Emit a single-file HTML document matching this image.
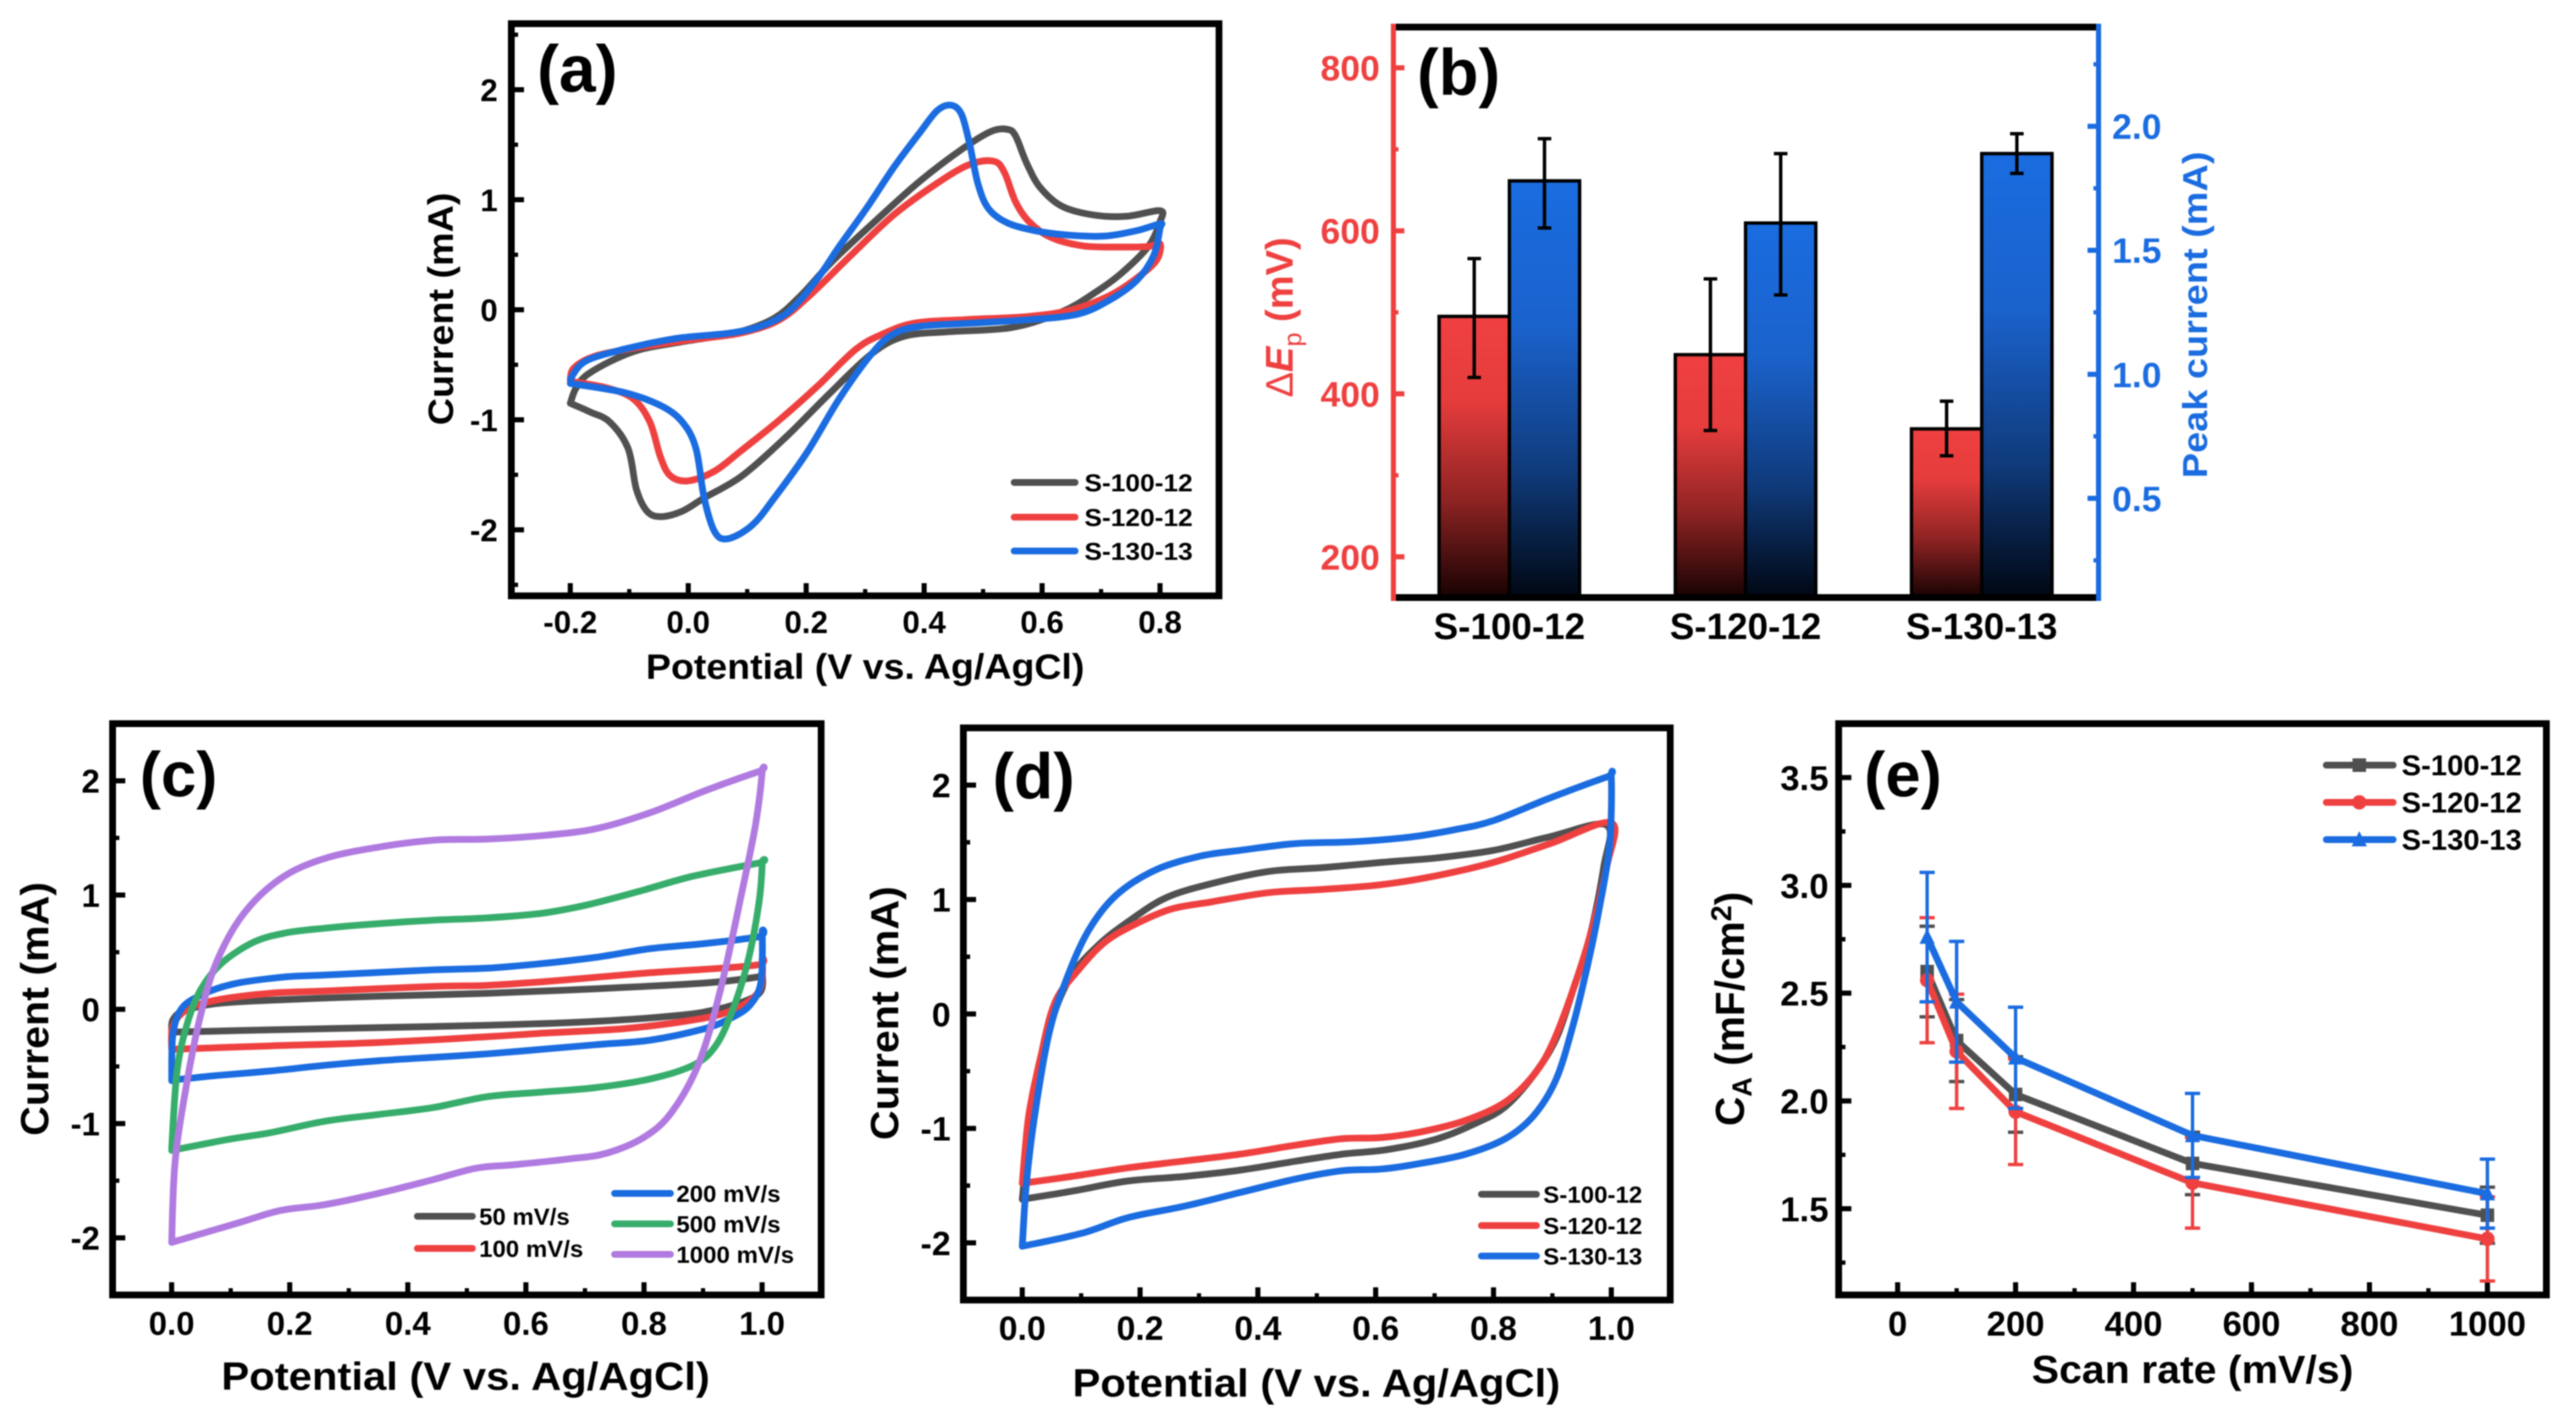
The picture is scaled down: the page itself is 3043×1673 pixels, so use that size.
<!DOCTYPE html>
<html lang="en">
<head>
<meta charset="utf-8">
<title>Electrochemical characterisation panels (a)-(e)</title>
<style>
html,body{margin:0;padding:0;background:#fff;}
svg{display:block;filter:blur(0.8px);}
text{font-family:"Liberation Sans",sans-serif;font-weight:bold;fill:#000;}
</style>
</head>
<body>
<svg id="figure" xmlns="http://www.w3.org/2000/svg" width="3043" height="1673" viewBox="0 0 3043 1673">
<defs>
<linearGradient id="redFade" x1="0" y1="0" x2="0" y2="1">
<stop offset="0" stop-color="#ef4040"/><stop offset="0.3" stop-color="#e53c3c"/><stop offset="0.65" stop-color="#8f2323"/><stop offset="1" stop-color="#180202"/>
</linearGradient>
<linearGradient id="blueFade" x1="0" y1="0" x2="0" y2="1">
<stop offset="0" stop-color="#1a6ce0"/><stop offset="0.35" stop-color="#1a62cc"/><stop offset="0.7" stop-color="#0f3a7a"/><stop offset="1" stop-color="#000712"/>
</linearGradient>
</defs>
<g id="layer-a"></g>
<g id="layer-b"></g>
<g id="layer-c"></g>
<g id="layer-d"></g>
<g id="layer-e"></g>

<g>
<text x="682" y="108" font-size="78" text-anchor="middle">(a)</text>
<text x="1723" y="112" font-size="77" text-anchor="middle">(b)</text>
<text x="211" y="941" font-size="75" text-anchor="middle">(c)</text>
<text x="1221" y="943" font-size="76" text-anchor="middle">(d)</text>
<text x="2248" y="941" font-size="75" text-anchor="middle">(e)</text>

<text x="1022" y="802" font-size="42" text-anchor="middle" textLength="518" lengthAdjust="spacingAndGlyphs">Potential (V vs. Ag/AgCl)</text>
<text transform="translate(535 365) rotate(-90)" font-size="42" text-anchor="middle" textLength="275" lengthAdjust="spacingAndGlyphs">Current (mA)</text>

<text transform="translate(1527 375) rotate(-90)" font-size="45" text-anchor="middle" style="fill:#ef4040"><tspan font-weight="normal" style="fill:#ef4040">Δ</tspan><tspan font-style="italic" style="fill:#ef4040">E</tspan><tspan font-size="30" dy="10" font-weight="normal" style="fill:#ef4040">p</tspan><tspan dy="-10" style="fill:#ef4040"> (mV)</tspan></text>
<text transform="translate(2607 372) rotate(-90)" font-size="41" text-anchor="middle" textLength="386" lengthAdjust="spacingAndGlyphs" style="fill:#1a6ce0">Peak current (mA)</text>

<text x="550" y="1642" font-size="46" text-anchor="middle" textLength="577" lengthAdjust="spacingAndGlyphs">Potential (V vs. Ag/AgCl)</text>
<text transform="translate(57 1192) rotate(-90)" font-size="46" text-anchor="middle" textLength="300" lengthAdjust="spacingAndGlyphs">Current (mA)</text>

<text x="1555" y="1650" font-size="46" text-anchor="middle" textLength="576" lengthAdjust="spacingAndGlyphs">Potential (V vs. Ag/AgCl)</text>
<text transform="translate(1061 1197) rotate(-90)" font-size="46" text-anchor="middle" textLength="300" lengthAdjust="spacingAndGlyphs">Current (mA)</text>

<text x="2590" y="1634" font-size="46" text-anchor="middle" textLength="380" lengthAdjust="spacingAndGlyphs">Scan rate (mV/s)</text>
<text transform="translate(2060 1192) rotate(-90)" font-size="48" text-anchor="middle">C<tspan font-size="32" dy="9">A</tspan><tspan dy="-9"> (mF/cm</tspan><tspan font-size="34" dy="-15">2</tspan><tspan dy="15">)</tspan></text>
</g>
</svg>

<script>
// ---------- Panel (a): cyclic voltammograms, [potential V, current mA] ----------
const aXTicks = [-0.2, 0, 0.2, 0.4, 0.6, 0.8];
const aYTicks = [-2, -1, 0, 1, 2];
const aSeriesNames = ["S-100-12", "S-120-12", "S-130-13"];
const aS100 = [[-0.2,-0.85],[-0.19,-0.71],[-0.166,-0.57],[-0.093,-0.38],[-0.01,-0.29],[0.08,-0.21],[0.145,-0.08],[0.191,0.13],[0.246,0.45],[0.32,0.82],[0.393,1.17],[0.467,1.47],[0.513,1.62],[0.541,1.64],[0.555,1.58],[0.574,1.33],[0.597,1.11],[0.634,0.94],[0.689,0.86],[0.744,0.85],[0.8,0.9],[0.8,0.8],[0.78,0.575],[0.734,0.33],[0.688,0.15],[0.633,-0.02],[0.55,-0.16],[0.44,-0.2],[0.367,-0.24],[0.311,-0.4],[0.238,-0.77],[0.165,-1.16],[0.091,-1.51],[0.027,-1.71],[-0.01,-1.83],[-0.047,-1.88],[-0.07,-1.83],[-0.088,-1.63],[-0.102,-1.26],[-0.133,-1.02],[-0.166,-0.93],[-0.2,-0.85]];
const aS120 = [[-0.2,-0.65],[-0.194,-0.53],[-0.157,-0.42],[-0.083,-0.34],[0.008,-0.27],[0.09,-0.21],[0.155,-0.09],[0.21,0.15],[0.275,0.49],[0.348,0.86],[0.422,1.15],[0.477,1.32],[0.518,1.35],[0.536,1.25],[0.555,0.98],[0.578,0.8],[0.614,0.66],[0.67,0.58],[0.734,0.57],[0.78,0.575],[0.8,0.6],[0.794,0.45],[0.761,0.29],[0.715,0.13],[0.651,0],[0.578,-0.06],[0.468,-0.09],[0.385,-0.12],[0.33,-0.22],[0.284,-0.36],[0.22,-0.69],[0.155,-1],[0.09,-1.28],[0.045,-1.465],[0,-1.555],[-0.03,-1.51],[-0.047,-1.34],[-0.065,-1.02],[-0.093,-0.81],[-0.138,-0.71],[-0.2,-0.65]];
const aS130 = [[-0.2,-0.63],[-0.175,-0.47],[-0.11,-0.36],[-0.02,-0.26],[0.073,-0.21],[0.128,-0.14],[0.174,0],[0.22,0.29],[0.256,0.575],[0.302,0.92],[0.348,1.29],[0.394,1.62],[0.422,1.81],[0.445,1.86],[0.463,1.78],[0.477,1.51],[0.491,1.15],[0.509,0.92],[0.541,0.79],[0.587,0.72],[0.642,0.68],[0.706,0.67],[0.761,0.72],[0.8,0.78],[0.8,0.74],[0.789,0.49],[0.761,0.27],[0.715,0.09],[0.66,-0.04],[0.578,-0.09],[0.486,-0.12],[0.394,-0.15],[0.348,-0.22],[0.311,-0.4],[0.256,-0.81],[0.201,-1.3],[0.146,-1.71],[0.109,-1.955],[0.068,-2.08],[0.045,-2.02],[0.027,-1.71],[0.013,-1.26],[-0.01,-1.02],[-0.047,-0.87],[-0.11,-0.75],[-0.2,-0.67]];

// ---------- Panel (b): bars ----------
const bCategories = ["S-100-12", "S-120-12", "S-130-13"];
const bLeftTicks = [200, 400, 600, 800];
const bRightTicks = [0.5, 1.0, 1.5, 2.0];
const bDeltaEp = [495, 448, 357];
const bDeltaEpLow = [420, 355, 324];
const bDeltaEpHigh = [566, 541, 391];
const bPeakCurrent = [1.78, 1.61, 1.89];
const bPeakLow = [1.59, 1.32, 1.81];
const bPeakHigh = [1.95, 1.89, 1.97];

// ---------- Panel (c): scan-rate series ----------
const cXTicks = [0, 0.2, 0.4, 0.6, 0.8, 1.0];
const cYTicks = [-2, -1, 0, 1, 2];
const c50 = [[0,-0.2],[0.002,-0.095],[0.02,-0.015],[0.075,0.05],[0.167,0.08],[0.351,0.115],[0.534,0.14],[0.718,0.18],[0.902,0.23],[0.989,0.28],[1,0.3],[0.998,0.16],[0.975,0.08],[0.92,-0.005],[0.856,-0.055],[0.718,-0.105],[0.534,-0.14],[0.351,-0.16],[0.167,-0.18],[0,-0.2]];
const c100 = [[0,-0.35],[0.002,-0.15],[0.025,-0.005],[0.075,0.08],[0.167,0.14],[0.259,0.16],[0.443,0.2],[0.534,0.21],[0.626,0.24],[0.718,0.28],[0.81,0.32],[0.902,0.35],[0.994,0.39],[1,0.44],[0.998,0.2],[0.975,0.06],[0.929,-0.045],[0.856,-0.115],[0.764,-0.17],[0.626,-0.21],[0.534,-0.24],[0.351,-0.29],[0.167,-0.32],[0,-0.35]];
const c200 = [[0,-0.625],[0.002,-0.23],[0.016,0],[0.048,0.12],[0.103,0.22],[0.185,0.28],[0.259,0.3],[0.443,0.345],[0.534,0.36],[0.626,0.4],[0.718,0.455],[0.81,0.53],[0.902,0.575],[0.994,0.635],[1,0.67],[0.998,0.24],[0.98,0.04],[0.948,-0.075],[0.902,-0.17],[0.81,-0.27],[0.718,-0.31],[0.626,-0.35],[0.534,-0.39],[0.443,-0.42],[0.351,-0.45],[0.259,-0.49],[0.167,-0.54],[0.075,-0.58],[0,-0.62]];
const c500 = [[0,-1.22],[0.009,-0.55],[0.025,-0.15],[0.048,0.16],[0.084,0.4],[0.14,0.59],[0.195,0.67],[0.259,0.71],[0.351,0.75],[0.443,0.78],[0.534,0.8],[0.626,0.84],[0.7,0.91],[0.79,1.03],[0.883,1.165],[0.994,1.28],[1,1.28],[0.994,0.91],[0.975,0.4],[0.948,-0.035],[0.92,-0.33],[0.883,-0.49],[0.81,-0.61],[0.718,-0.685],[0.626,-0.725],[0.534,-0.765],[0.443,-0.86],[0.351,-0.92],[0.259,-0.98],[0.167,-1.08],[0.094,-1.14],[0,-1.235]];
const c1000 = [[0,-2.04],[0.006,-1.33],[0.025,-0.665],[0.048,-0.075],[0.075,0.4],[0.121,0.83],[0.185,1.146],[0.259,1.32],[0.351,1.42],[0.443,1.48],[0.534,1.49],[0.626,1.52],[0.718,1.58],[0.81,1.72],[0.902,1.91],[0.994,2.08],[1,2.08],[0.989,1.62],[0.966,1.03],[0.929,0.16],[0.893,-0.47],[0.847,-0.9],[0.8,-1.12],[0.736,-1.26],[0.672,-1.31],[0.58,-1.36],[0.516,-1.39],[0.443,-1.49],[0.351,-1.61],[0.259,-1.71],[0.185,-1.76],[0.112,-1.87],[0,-2.04]];

// ---------- Panel (d) ----------
const dXTicks = [0, 0.2, 0.4, 0.6, 0.8, 1.0];
const dYTicks = [-2, -1, 0, 1, 2];
const dS100 = [[0,-1.62],[0.011,-1.09],[0.026,-0.615],[0.05,-0.06],[0.083,0.33],[0.131,0.61],[0.189,0.84],[0.246,1.02],[0.322,1.14],[0.418,1.245],[0.514,1.28],[0.61,1.325],[0.705,1.365],[0.8,1.43],[0.897,1.55],[0.992,1.65],[0.987,1.28],[0.964,0.685],[0.935,0.21],[0.906,-0.22],[0.868,-0.535],[0.82,-0.81],[0.772,-0.95],[0.705,-1.09],[0.62,-1.185],[0.543,-1.225],[0.466,-1.285],[0.37,-1.365],[0.275,-1.42],[0.179,-1.46],[0.083,-1.55],[0,-1.62]];
const dS120 = [[0,-1.48],[0.011,-0.89],[0.031,-0.38],[0.055,0.095],[0.093,0.37],[0.141,0.63],[0.198,0.8],[0.255,0.92],[0.322,0.98],[0.418,1.06],[0.514,1.09],[0.61,1.13],[0.705,1.21],[0.8,1.325],[0.897,1.49],[1,1.67],[0.992,1.28],[0.964,0.685],[0.935,0.21],[0.9,-0.26],[0.868,-0.535],[0.82,-0.77],[0.753,-0.93],[0.677,-1.03],[0.61,-1.08],[0.543,-1.09],[0.466,-1.145],[0.37,-1.225],[0.275,-1.285],[0.179,-1.345],[0.083,-1.42],[0,-1.48]];
const dS130 = [[0,-2.03],[0.007,-1.48],[0.021,-0.89],[0.045,-0.18],[0.074,0.29],[0.112,0.725],[0.16,1.04],[0.227,1.26],[0.303,1.38],[0.37,1.43],[0.466,1.49],[0.562,1.505],[0.657,1.545],[0.734,1.61],[0.8,1.69],[0.897,1.89],[0.992,2.07],[1,2.07],[0.997,1.47],[0.978,0.88],[0.959,0.41],[0.935,-0.1],[0.906,-0.575],[0.868,-0.89],[0.82,-1.09],[0.753,-1.225],[0.677,-1.305],[0.61,-1.355],[0.543,-1.37],[0.466,-1.44],[0.37,-1.56],[0.275,-1.68],[0.179,-1.78],[0.102,-1.915],[0,-2.03]];

// ---------- Panel (e): capacitance vs scan rate ----------
const eXTicks = [0, 200, 400, 600, 800, 1000];
const eYTicks = [1.5, 2.0, 2.5, 3.0, 3.5];
const eRates = [50, 100, 200, 500, 1000];
const eS100 = [2.6, 2.28, 2.03, 1.71, 1.47];
const eS120 = [2.56, 2.23, 1.95, 1.62, 1.36];
const eS130 = [2.76, 2.46, 2.2, 1.84, 1.57];
const eS100Err = [0.21, 0.19, 0.175, 0.145, 0.13];
const eS120Err = [0.29, 0.265, 0.245, 0.21, 0.195];
const eS130Err = [0.3, 0.28, 0.235, 0.195, 0.16];

// ---------- Helpers ----------
const NS = "http://www.w3.org/2000/svg";
const GRAY = "#505050", RED = "#ef4040", BLUE = "#1a6ce0", GREEN = "#37ad6b", PURPLE = "#b07ae0";
const LINE_W = 8;

function mk(tag, attrs, parent) {
  const el = document.createElementNS(NS, tag);
  for (const k in attrs) el.setAttribute(k, attrs[k]);
  parent.appendChild(el);
  return el;
}
function linear(d0, d1, r0, r1) {
  return v => r0 + (v - d0) / (d1 - d0) * (r1 - r0);
}
function smoothPath(pts) {
  let d = "M" + pts[0][0].toFixed(1) + " " + pts[0][1].toFixed(1);
  for (let i = 0; i < pts.length - 1; i++) {
    const p0 = pts[Math.max(0, i - 1)], p1 = pts[i], p2 = pts[i + 1], p3 = pts[Math.min(pts.length - 1, i + 2)];
    const c1x = p1[0] + (p2[0] - p0[0]) / 6, c1y = p1[1] + (p2[1] - p0[1]) / 6;
    const c2x = p2[0] - (p3[0] - p1[0]) / 6, c2y = p2[1] - (p3[1] - p1[1]) / 6;
    d += "C" + c1x.toFixed(1) + " " + c1y.toFixed(1) + " " + c2x.toFixed(1) + " " + c2y.toFixed(1) + " " + p2[0].toFixed(1) + " " + p2[1].toFixed(1);
  }
  return d;
}
function drawFrame(layer, f) {
  const r = mk("rect", {x: f.L, y: f.T, width: f.R - f.L, height: f.B - f.T, fill: "none", stroke: "#000", "stroke-width": 8}, layer);
  
  
}
function drawAxes(layer, f, sx, sy, xTicks, yTicks, xFmt, yFmt, opt) {
  const xStep = xTicks[1] - xTicks[0], yStep = yTicks[1] - yTicks[0];
  xTicks.forEach((v, i) => {
    const t = mk("line", {x1: sx(v), x2: sx(v), y1: f.B, y2: f.B - 15, stroke: "#000", "stroke-width": 6}, layer);
    
    
    const m = mk("line", {x1: sx(v + xStep / 2), x2: sx(v + xStep / 2), y1: f.B, y2: f.B - 8, stroke: "#000", "stroke-width": 5}, layer);
    
    
    const l = mk("text", {x: sx(v), y: opt.xBase, "font-size": opt.size, "text-anchor": "middle"}, layer);
    l.textContent = xFmt(v);
    
    
  });
  yTicks.forEach((v, i) => {
    const t = mk("line", {x1: f.L, x2: f.L + 15, y1: sy(v), y2: sy(v), stroke: "#000", "stroke-width": 6}, layer);
    
    
    [v - yStep / 2, v + yStep / 2].forEach(mv => {
      const py = sy(mv);
      if (py > f.T + 10 && py < f.B - 10) {
        const m = mk("line", {x1: f.L, x2: f.L + 8, y1: py, y2: py, stroke: "#000", "stroke-width": 5}, layer);
        
        
      }
    });
    const l = mk("text", {x: opt.yEnd, y: sy(v) + opt.size * 0.36, "font-size": opt.size, "text-anchor": "end"}, layer);
    l.textContent = yFmt(v);
    
    
  });
}
function drawCurve(layer, data, sx, sy, color, name) {
  const pts = data.map(p => [sx(p[0]), sy(p[1])]);
  const c = mk("path", {d: smoothPath(pts), fill: "none", stroke: color, "stroke-width": LINE_W, "stroke-linejoin": "round", "stroke-linecap": "round"}, layer);
  
  
}
function drawLegendEntry(layer, x1, x2, y, tx, color, label, size, len) {
  const ln = mk("line", {x1: x1, x2: x2, y1: y, y2: y, stroke: color, "stroke-width": LINE_W, "stroke-linecap": "round"}, layer);
  
  
  const t = mk("text", {x: tx, y: y + size * 0.36, "font-size": size, textLength: len, lengthAdjust: "spacingAndGlyphs"}, layer);
  t.textContent = label;
  
  
}
const f1 = v => v.toFixed(1);
const f0 = v => String(v);

// ---------- Panel (a) ----------
(function () {
  const layer = document.getElementById("layer-a");
  const f = {L: 604, R: 1440, T: 28, B: 704};
  const sx = linear(-0.3, 0.9, f.L, f.R), sy = linear(-2.6, 2.6, f.B, f.T);
  drawFrame(layer, f);
  drawAxes(layer, f, sx, sy, aXTicks, aYTicks, f1, f0, {size: 37, xBase: 748, yEnd: 588});
  drawCurve(layer, aS100, sx, sy, GRAY, "curve-s-100-12");
  drawCurve(layer, aS120, sx, sy, RED, "curve-s-120-12");
  drawCurve(layer, aS130, sx, sy, BLUE, "curve-s-130-13");
  const ys = [570, 611, 651], cols = [GRAY, RED, BLUE];
  aSeriesNames.forEach((n, i) => drawLegendEntry(layer, 1198, 1270, ys[i], 1281, cols[i], n, 29, 128));
})();

// ---------- Panel (b) ----------
(function () {
  const layer = document.getElementById("layer-b");
  const f = {L: 1646, R: 2479, T: 32, B: 706};
  const sl = linear(150, 850, f.B, f.T), sr = linear(0.1, 2.4, f.B, f.T);
  const cx = linear(0, 2, 1783, 2341);
  const bw = 83;

  bCategories.forEach((c, i) => {
    const cc = cx(i);
    const rb = mk("rect", {x: cc - bw, y: sl(bDeltaEp[i]), width: bw, height: f.B - sl(bDeltaEp[i]), fill: "url(#redFade)", stroke: "#000", "stroke-width": 4}, layer);
    
    
    const bb = mk("rect", {x: cc, y: sr(bPeakCurrent[i]), width: bw, height: f.B - sr(bPeakCurrent[i]), fill: "url(#blueFade)", stroke: "#000", "stroke-width": 4}, layer);
    
    
    const errs = [[cc - bw / 2, sl(bDeltaEpLow[i]), sl(bDeltaEpHigh[i])], [cc + bw / 2, sr(bPeakLow[i]), sr(bPeakHigh[i])]];
    errs.forEach(e => {
      const s = mk("path", {d: "M" + e[0] + " " + e[1] + "V" + e[2] + "M" + (e[0] - 8) + " " + e[1] + "h16M" + (e[0] - 8) + " " + e[2] + "h16", fill: "none", stroke: "#000", "stroke-width": 4}, layer);
      
      
    });
    const l = mk("text", {x: cc, y: 755, "font-size": 43.5, "text-anchor": "middle"}, layer);
    l.textContent = c;
    
    
  });

  const top = mk("line", {x1: f.L, x2: f.R, y1: f.T, y2: f.T, stroke: "#000", "stroke-width": 8}, layer);
  
  
  const bot = mk("line", {x1: f.L, x2: f.R, y1: f.B, y2: f.B, stroke: "#000", "stroke-width": 8}, layer);
  
  
  const la = mk("line", {x1: f.L, x2: f.L, y1: f.T - 4, y2: f.B + 4, stroke: RED, "stroke-width": 6}, layer);
  
  
  const ra = mk("line", {x1: f.R, x2: f.R, y1: f.T - 4, y2: f.B + 4, stroke: BLUE, "stroke-width": 6}, layer);
  
  

  bLeftTicks.forEach(v => {
    const t = mk("line", {x1: f.L, x2: f.L + 13, y1: sl(v), y2: sl(v), stroke: RED, "stroke-width": 6}, layer);
    
    
    const m = mk("line", {x1: f.L, x2: f.L + 6, y1: sl(v + 100), y2: sl(v + 100), stroke: RED, "stroke-width": 5}, layer);
    
    
    const l = mk("text", {x: 1630, y: sl(v) + 15, "font-size": 42, "text-anchor": "end", style: "fill:" + RED}, layer);
    l.textContent = f0(v);
    
    
  });
  bRightTicks.forEach(v => {
    const t = mk("line", {x1: f.R, x2: f.R - 13, y1: sr(v), y2: sr(v), stroke: BLUE, "stroke-width": 6}, layer);
    
    
    [v - 0.25, v + 0.25].forEach(mv => {
      const m = mk("line", {x1: f.R, x2: f.R - 6, y1: sr(mv), y2: sr(mv), stroke: BLUE, "stroke-width": 5}, layer);
      
      
    });
    const l = mk("text", {x: 2495, y: sr(v) + 15, "font-size": 42, style: "fill:" + BLUE}, layer);
    l.textContent = f1(v);
    
    
  });
})();

// ---------- Panel (c) ----------
(function () {
  const layer = document.getElementById("layer-c");
  const f = {L: 133, R: 970, T: 855, B: 1530};
  const sx = linear(-0.1, 1.1, f.L, f.R), sy = linear(-2.5, 2.5, f.B, f.T);
  drawFrame(layer, f);
  drawAxes(layer, f, sx, sy, cXTicks, cYTicks, f1, f0, {size: 39, xBase: 1577, yEnd: 118});
  drawCurve(layer, c50, sx, sy, GRAY, "curve-50-mv-s");
  drawCurve(layer, c100, sx, sy, RED, "curve-100-mv-s");
  drawCurve(layer, c200, sx, sy, BLUE, "curve-200-mv-s");
  drawCurve(layer, c500, sx, sy, GREEN, "curve-500-mv-s");
  drawCurve(layer, c1000, sx, sy, PURPLE, "curve-1000-mv-s");
  drawLegendEntry(layer, 493, 558, 1437, 566, GRAY, "50 mV/s", 28, 107);
  drawLegendEntry(layer, 493, 558, 1475, 566, RED, "100 mV/s", 28, 123);
  drawLegendEntry(layer, 726, 792, 1410, 799, BLUE, "200 mV/s", 28, 123);
  drawLegendEntry(layer, 726, 792, 1446, 799, GREEN, "500 mV/s", 28, 123);
  drawLegendEntry(layer, 726, 792, 1482, 799, PURPLE, "1000 mV/s", 28, 139);
})();

// ---------- Panel (d) ----------
(function () {
  const layer = document.getElementById("layer-d");
  const f = {L: 1138, R: 1973, T: 860, B: 1536};
  const sx = linear(-0.1, 1.1, f.L, f.R), sy = linear(-2.5, 2.5, f.B, f.T);
  drawFrame(layer, f);
  drawAxes(layer, f, sx, sy, dXTicks, dYTicks, f1, f0, {size: 40, xBase: 1583, yEnd: 1123});
  drawCurve(layer, dS100, sx, sy, GRAY, "curve-s-100-12");
  drawCurve(layer, dS120, sx, sy, RED, "curve-s-120-12");
  drawCurve(layer, dS130, sx, sy, BLUE, "curve-s-130-13");
  drawLegendEntry(layer, 1750, 1815, 1411, 1823, GRAY, "S-100-12", 28, 117);
  drawLegendEntry(layer, 1750, 1815, 1448, 1823, RED, "S-120-12", 28, 117);
  drawLegendEntry(layer, 1750, 1815, 1484, 1823, BLUE, "S-130-13", 28, 117);
})();

// ---------- Panel (e) ----------
(function () {
  const layer = document.getElementById("layer-e");
  const f = {L: 2172, R: 3008, T: 855, B: 1530};
  const sx = linear(-100, 1100, f.L, f.R), sy = linear(1.1, 3.75, f.B, f.T);
  drawFrame(layer, f);
  drawAxes(layer, f, sx, sy, eXTicks, eYTicks, f0, f1, {size: 41, xBase: 1578, yEnd: 2160});

  function marker(kind, px, py, color) {
    let m;
    if (kind === "square") m = mk("rect", {x: px - 8, y: py - 8, width: 16, height: 16, fill: color}, layer);
    else if (kind === "circle") m = mk("circle", {cx: px, cy: py, r: 8.5, fill: color}, layer);
    else m = mk("polygon", {points: (px - 9) + "," + (py + 8) + " " + (px + 9) + "," + (py + 8) + " " + px + "," + (py - 10), fill: color}, layer);
    
    
  }
  function series(vals, errs, color, kind, name) {
    vals.forEach((v, i) => {
      const x = sx(eRates[i]), lo = sy(v - errs[i]), hi = sy(v + errs[i]);
      const e = mk("path", {d: "M" + x + " " + lo + "V" + hi + "M" + (x - 9) + " " + lo + "h18M" + (x - 9) + " " + hi + "h18", fill: "none", stroke: color, "stroke-width": 4}, layer);
      
      
    });
    const d = vals.map((v, i) => (i ? "L" : "M") + sx(eRates[i]).toFixed(1) + " " + sy(v).toFixed(1)).join("");
    const l = mk("path", {d: d, fill: "none", stroke: color, "stroke-width": LINE_W, "stroke-linejoin": "round"}, layer);
    
    
    vals.forEach((v, i) => marker(kind, sx(eRates[i]), sy(v), color));
  }
  series(eS100, eS100Err, GRAY, "square", "line-s-100-12");
  series(eS120, eS120Err, RED, "circle", "line-s-120-12");
  series(eS130, eS130Err, BLUE, "triangle", "line-s-130-13");

  drawLegendEntry(layer, 2748, 2827, 904, 2837, GRAY, "S-100-12", 34, 142);
  marker("square", 2787, 904, GRAY);
  drawLegendEntry(layer, 2748, 2827, 948, 2837, RED, "S-120-12", 34, 142);
  marker("circle", 2787, 948, RED);
  drawLegendEntry(layer, 2748, 2827, 992, 2837, BLUE, "S-130-13", 34, 142);
  marker("triangle", 2787, 992, BLUE);
})();
</script>
</body>
</html>
